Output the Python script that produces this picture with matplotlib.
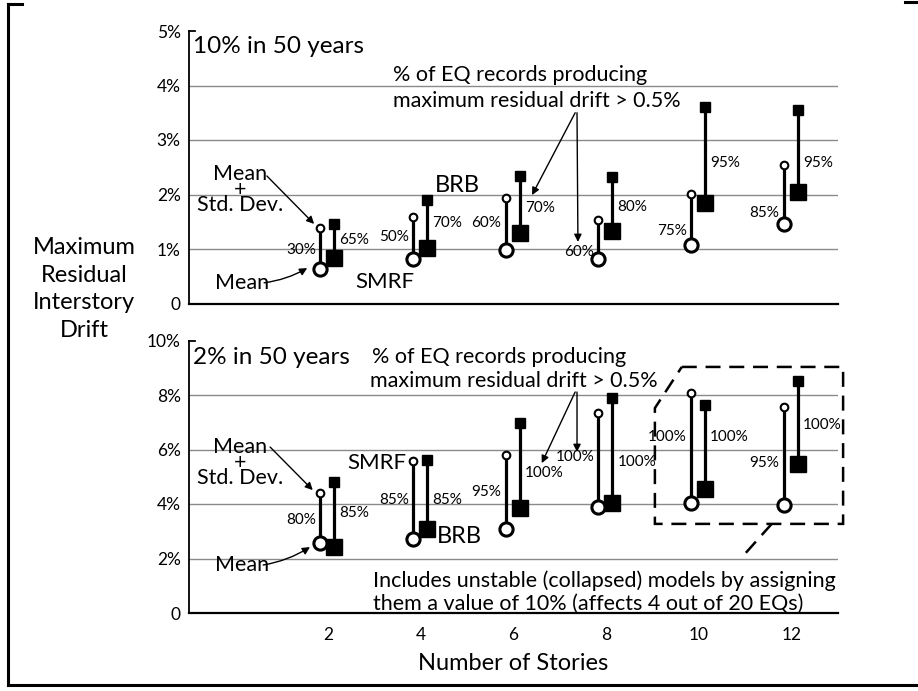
import matplotlib
matplotlib.use("Agg")
import matplotlib.pyplot as plt
from matplotlib.lines import Line2D
from matplotlib.patches import Polygon

plt.rcParams['font.family'] = ['Lato', 'DejaVu Sans']

# ---------------- data ----------------
stories = [2, 4, 6, 8, 10, 12]
story_ticks = [2, 4, 6, 8, 10, 12]

# 10% in 50 years hazard level (values in % drift)
smrf_mean_10 = [0.63, 0.81, 0.99, 0.81, 1.07, 1.45]
smrf_msd_10 = [1.38, 1.59, 1.94, 1.54, 2.01, 2.54]
brb_mean_10 = [0.83, 1.02, 1.29, 1.33, 1.85, 2.05]
brb_msd_10 = [1.46, 1.90, 2.34, 2.33, 3.60, 3.55]
smrf_pct_10 = ["30%", "50%", "60%", "60%", "75%", "85%"]
brb_pct_10 = ["65%", "70%", "70%", "80%", "95%", "95%"]

# 2% in 50 years hazard level
smrf_mean_2 = [2.58, 2.70, 3.07, 3.89, 4.04, 3.96]
smrf_msd_2 = [4.42, 5.58, 5.79, 7.34, 8.07, 7.56]
brb_mean_2 = [2.43, 3.07, 3.86, 4.04, 4.54, 5.48]
brb_msd_2 = [4.79, 5.60, 6.97, 7.89, 7.62, 8.53]
smrf_pct_2 = ["80%", "85%", "95%", "100%", "100%", "95%"]
brb_pct_2 = ["85%", "85%", "100%", "100%", "100%", "100%"]

# ---------------- layout ----------------
W, H = 918, 691
fig = plt.figure(figsize=(W / 100, H / 100), dpi=100)

def frac(px_left, px_top, px_right, px_bottom):
    return [px_left / W, 1 - px_bottom / H, (px_right - px_left) / W, (px_bottom - px_top) / H]

ax_top = fig.add_axes(frac(189, 31, 838, 303.5))
ax_bot = fig.add_axes(frac(189, 340.5, 838, 613))

# height of the percentage tags along each whisker
smrf_tag_y_10 = [0.98, 1.22, 1.48, 0.94, 1.33, 1.66]
brb_tag_y_10 = [1.17, 1.48, 1.75, 1.77, 2.58, 2.58]
smrf_tag_y_2 = [3.41, 4.15, 4.44, 5.72, 6.46, 5.50]
brb_tag_y_2 = [3.67, 4.15, 5.13, 5.54, 6.46, 6.90]

SMRF_DX = -0.17
BRB_DX = 0.13
LINE_W = 2.3
TAG_FS = 11
TXT_FS = 15.5
GRID_C = "#8a8a8a"


def style_axes(ax, ymax, yticks, ylabels, show_x):
    ax.set_xlim(-1, 13)
    ax.set_ylim(0, ymax)
    for s in ("top", "right"):
        ax.spines[s].set_visible(False)
    ax.spines["left"].set_linewidth(1.3)
    ax.spines["bottom"].set_linewidth(1.6)
    ax.set_yticks(yticks)
    ax.set_yticklabels(ylabels, fontsize=12.5)
    ax.tick_params(axis="y", length=0, pad=6)
    for y in yticks[1:-1]:
        ax.axhline(y, color=GRID_C, lw=1.0, zorder=0)
    # short stub at the top of the y axis
    ax.plot([-1, -0.88], [ymax, ymax], color="black", lw=1.3, clip_on=False)
    if show_x:
        ax.set_xticks(story_ticks)
        ax.set_xticklabels([str(s) for s in story_ticks], fontsize=12.5)
        ax.tick_params(axis="x", length=0, pad=10)
    else:
        ax.set_xticks([])


def draw_pairs(ax, s_mean, s_msd, b_mean, b_msd, s_pct, b_pct, s_tag_y, b_tag_y):
    for i, x in enumerate(stories):
        xs = x + SMRF_DX
        xb = x + BRB_DX
        ax.plot([xs, xs], [s_mean[i], s_msd[i]], color="black", lw=LINE_W,
                solid_capstyle="butt", zorder=3)
        ax.plot([xb, xb], [b_mean[i], b_msd[i]], color="black", lw=LINE_W,
                solid_capstyle="butt", zorder=3)
        ax.plot(xs, s_msd[i], "o", ms=5.5, mfc="white", mec="black", mew=1.5,
                zorder=5, clip_on=False)
        ax.plot(xs, s_mean[i], "o", ms=9.5, mfc="white", mec="black", mew=2.2,
                zorder=5, clip_on=False)
        ax.plot(xb, b_msd[i], "s", ms=7, mfc="black", mec="black", zorder=5,
                clip_on=False)
        ax.plot(xb, b_mean[i], "s", ms=11.5, mfc="black", mec="black", zorder=5,
                clip_on=False)
        ax.text(xs - 0.09, s_tag_y[i], s_pct[i], ha="right", va="center",
                fontsize=TAG_FS, zorder=6)
        ax.text(xb + 0.11, b_tag_y[i], b_pct[i], ha="left", va="center",
                fontsize=TAG_FS, zorder=6)


def arrow(ax, start, end, rad=0.0):
    ax.annotate("", xy=end, xytext=start,
                arrowprops=dict(arrowstyle="-|>", color="black", lw=1.0,
                                mutation_scale=11, shrinkA=0, shrinkB=0,
                                connectionstyle=f"arc3,rad={rad}"),
                annotation_clip=False)


MSD_TEXT = "Mean\n+\nStd. Dev."

# ---------------- top panel: 10% in 50 years ----------------
style_axes(ax_top, 5, [0, 1, 2, 3, 4, 5], ["0", "1%", "2%", "3%", "4%", "5%"], False)
draw_pairs(ax_top, smrf_mean_10, smrf_msd_10, brb_mean_10, brb_msd_10,
           smrf_pct_10, brb_pct_10, smrf_tag_y_10, brb_tag_y_10)

ax_top.text(-0.91, 4.71, "10% in 50 years", ha="left", va="center", fontsize=17.5)
ax_top.text(3.40, 4.19, "% of EQ records producing", ha="left", va="center", fontsize=TXT_FS)
ax_top.text(3.40, 3.72, "maximum residual drift > 0.5%", ha="left", va="center", fontsize=TXT_FS)
arrow(ax_top, (7.33, 3.50), (6.40, 1.99))
arrow(ax_top, (7.37, 3.50), (7.39, 1.13))

ax_top.text(0.10, 2.09, MSD_TEXT, ha="center", va="center", multialignment="center",
            fontsize=TXT_FS, linespacing=0.72)
arrow(ax_top, (0.68, 2.34), (1.70, 1.46))
ax_top.text(-0.44, 0.38, "Mean", ha="left", va="center", fontsize=TXT_FS)
arrow(ax_top, (0.62, 0.38), (1.55, 0.65), rad=0.1)
ax_top.text(4.31, 2.17, "BRB", ha="left", va="center", fontsize=17)
ax_top.text(2.58, 0.39, "SMRF", ha="left", va="center", fontsize=16)

# ---------------- bottom panel: 2% in 50 years ----------------
style_axes(ax_bot, 10, [0, 2, 4, 6, 8, 10], ["0", "2%", "4%", "6%", "8%", "10%"], True)
draw_pairs(ax_bot, smrf_mean_2, smrf_msd_2, brb_mean_2, brb_msd_2,
           smrf_pct_2, brb_pct_2, smrf_tag_y_2, brb_tag_y_2)

ax_bot.text(-0.91, 9.39, "2% in 50 years", ha="left", va="center", fontsize=17.5)
ax_bot.text(2.95, 9.39, "% of EQ records producing", ha="left", va="center", fontsize=TXT_FS)
ax_bot.text(2.90, 8.51, "maximum residual drift > 0.5%", ha="left", va="center", fontsize=TXT_FS)
arrow(ax_bot, (7.33, 8.11), (6.61, 5.50))
arrow(ax_bot, (7.37, 8.11), (7.37, 5.91))

ax_bot.text(0.10, 5.52, MSD_TEXT, ha="center", va="center", multialignment="center",
            fontsize=TXT_FS, linespacing=0.72)
arrow(ax_bot, (0.75, 6.09), (1.67, 4.51))
ax_bot.text(-0.44, 1.76, "Mean", ha="left", va="center", fontsize=TXT_FS)
arrow(ax_bot, (0.60, 1.76), (1.61, 2.42), rad=0.1)
ax_bot.text(3.68, 5.50, "SMRF", ha="right", va="center", fontsize=16)
ax_bot.text(4.35, 2.79, "BRB", ha="left", va="center", fontsize=17)

ax_bot.text(2.97, 1.17, "Includes unstable (collapsed) models by assigning",
            ha="left", va="center", fontsize=TXT_FS)
ax_bot.text(2.97, 0.33, "them a value of 10% (affects 4 out of 20 EQs)",
            ha="left", va="center", fontsize=TXT_FS)

# dashed outline around the 10- and 12-story results
box = Polygon([(9.63, 9.03), (13.11, 9.03), (13.11, 3.27), (9.05, 3.27), (9.05, 7.52)],
              closed=True, fill=False, ec="black", lw=1.8, ls=(0, (6, 3.5)),
              clip_on=False, zorder=4)
ax_bot.add_patch(box)
ax_bot.plot([11.57, 10.95], [3.27, 2.09], color="black", lw=1.8, ls=(0, (6, 3.5)),
            clip_on=False)

# ---------------- shared labels ----------------
fig.text(84 / W, 1 - 289 / H, "Maximum\nResidual\nInterstory\nDrift", ha="center",
         va="center", fontsize=17, linespacing=1.4)
fig.text(513 / W, 1 - 663 / H, "Number of Stories", ha="center", va="center", fontsize=17)

# outer frame
frame_kw = dict(color="black", lw=2.2, transform=fig.transFigure)
fig.add_artist(Line2D([8 / W, 8 / W], [1 - 4 / H, 1 - 685 / H], **frame_kw))
fig.add_artist(Line2D([8 / W, 1.0], [1 - 685 / H, 1 - 685 / H], **frame_kw))
fig.add_artist(Line2D([8 / W, 22 / W], [1 - 4 / H, 1 - 4 / H], **frame_kw))
fig.add_artist(Line2D([905 / W, 1.0], [1 - 2 / H, 1 - 2 / H], **frame_kw))

fig.savefig("out.png", dpi=100)
